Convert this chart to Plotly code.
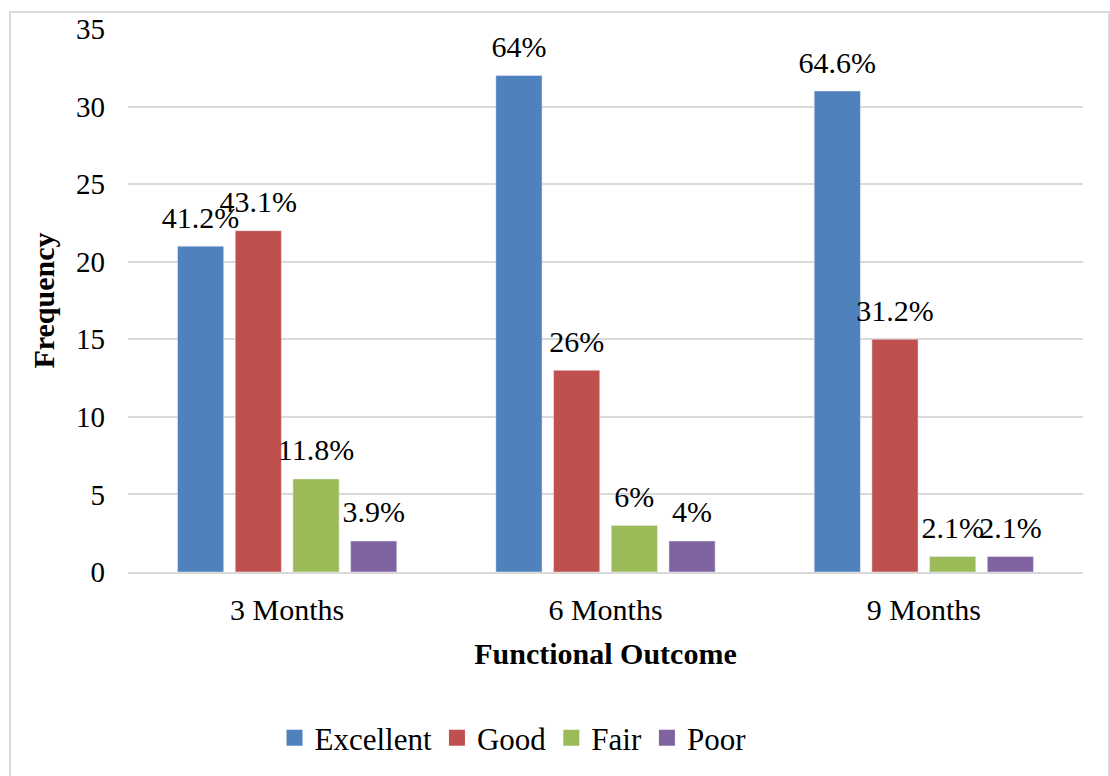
import plotly.graph_objects as go

categories = ["3 Months", "6 Months", "9 Months"]
series_names = ["Excellent", "Good", "Fair", "Poor"]
excellent = [21, 32, 31]
good = [22, 13, 15]
fair = [6, 3, 1]
poor = [2, 2, 1]
excellent_pct = ["41.2%", "64%", "64.6%"]
good_pct = ["43.1%", "26%", "31.2%"]
fair_pct = ["11.8%", "6%", "2.1%"]
poor_pct = ["3.9%", "4%", "2.1%"]

colors = ["#4F81BD", "#C0504D", "#9BBB59", "#8064A2"]
FONT = "Liberation Serif, Times New Roman, serif"

fig = go.Figure()
all_vals = [excellent, good, fair, poor]
all_txt = [excellent_pct, good_pct, fair_pct, poor_pct]
for i, (name, vals, col) in enumerate(zip(series_names, all_vals, colors)):
    fig.add_trace(go.Bar(
        x=categories, y=vals, name=name, marker_color=col,
        showlegend=False, offsetgroup=f"g{i}", alignmentgroup="a",
    ))
# data labels, grouped the same way as the bars
for i, (name, vals, txt) in enumerate(zip(series_names, all_vals, all_txt)):
    fig.add_trace(go.Scatter(
        x=categories, y=vals, mode="markers+text", text=txt,
        textposition="top center", cliponaxis=False, showlegend=False,
        marker=dict(size=16, opacity=0), hoverinfo="skip",
        offsetgroup=f"g{i}", alignmentgroup="a",
        textfont=dict(family=FONT, size=30, color="black"),
    ))
# legend entries with larger square swatches
for i, (name, col) in enumerate(zip(series_names, colors)):
    fig.add_trace(go.Scatter(
        x=[None], y=[None], mode="markers", name=name,
        marker=dict(symbol="square", size=17, color=col),
        showlegend=True, offsetgroup=f"g{i}", alignmentgroup="a",
    ))

W, H = 1110, 776
L, R, T, B = 128, 27, 29, 203
pw, ph = W - L - R, H - T - B

def px_x(p):
    return (p - L) / pw

def px_y(p):
    return (H - B - p) / ph

fig.update_layout(
    width=W, height=H,
    margin=dict(l=L, r=R, t=T, b=B),
    paper_bgcolor="white", plot_bgcolor="white",
    barmode="group", bargap=0.275, bargroupgap=0.2,
    scattermode="group", scattergap=0.275,
    font=dict(family=FONT, size=28, color="black"),
    showlegend=True,
    legend=dict(orientation="h", x=px_x(513), xanchor="center",
                y=px_y(738), yanchor="middle",
                font=dict(family=FONT, size=31, color="black"),
                itemwidth=30, traceorder="normal"),
    shapes=[dict(type="rect", xref="paper", yref="paper",
                 x0=px_x(10), x1=px_x(1109), y0=px_y(780), y1=px_y(12),
                 line=dict(color="#d9d9d9", width=2), fillcolor="rgba(0,0,0,0)",
                 layer="below")],
)
fig.update_yaxes(range=[0, 35], dtick=5, showgrid=True, gridcolor="#d9d9d9",
                 gridwidth=2, zeroline=False, showline=False, automargin=False,
                 tickfont=dict(family=FONT, size=29, color="black"),
                 ticklabelstandoff=22,
                 title=dict(text="<b>Frequency</b>", standoff=12,
                            font=dict(family=FONT, size=30, color="black")))
fig.update_xaxes(showline=True, linecolor="#d9d9d9", linewidth=2,
                 showgrid=False, ticks="", automargin=False,
                 tickfont=dict(family=FONT, size=30, color="black"),
                 ticklabelstandoff=10,
                 title=dict(text="<b>Functional Outcome</b>", standoff=18,
                            font=dict(family=FONT, size=30, color="black")))

fig.write_html("out.html", config={"displayModeBar": False},
               post_script="document.body.style.margin='0';document.body.style.overflow='hidden';")
